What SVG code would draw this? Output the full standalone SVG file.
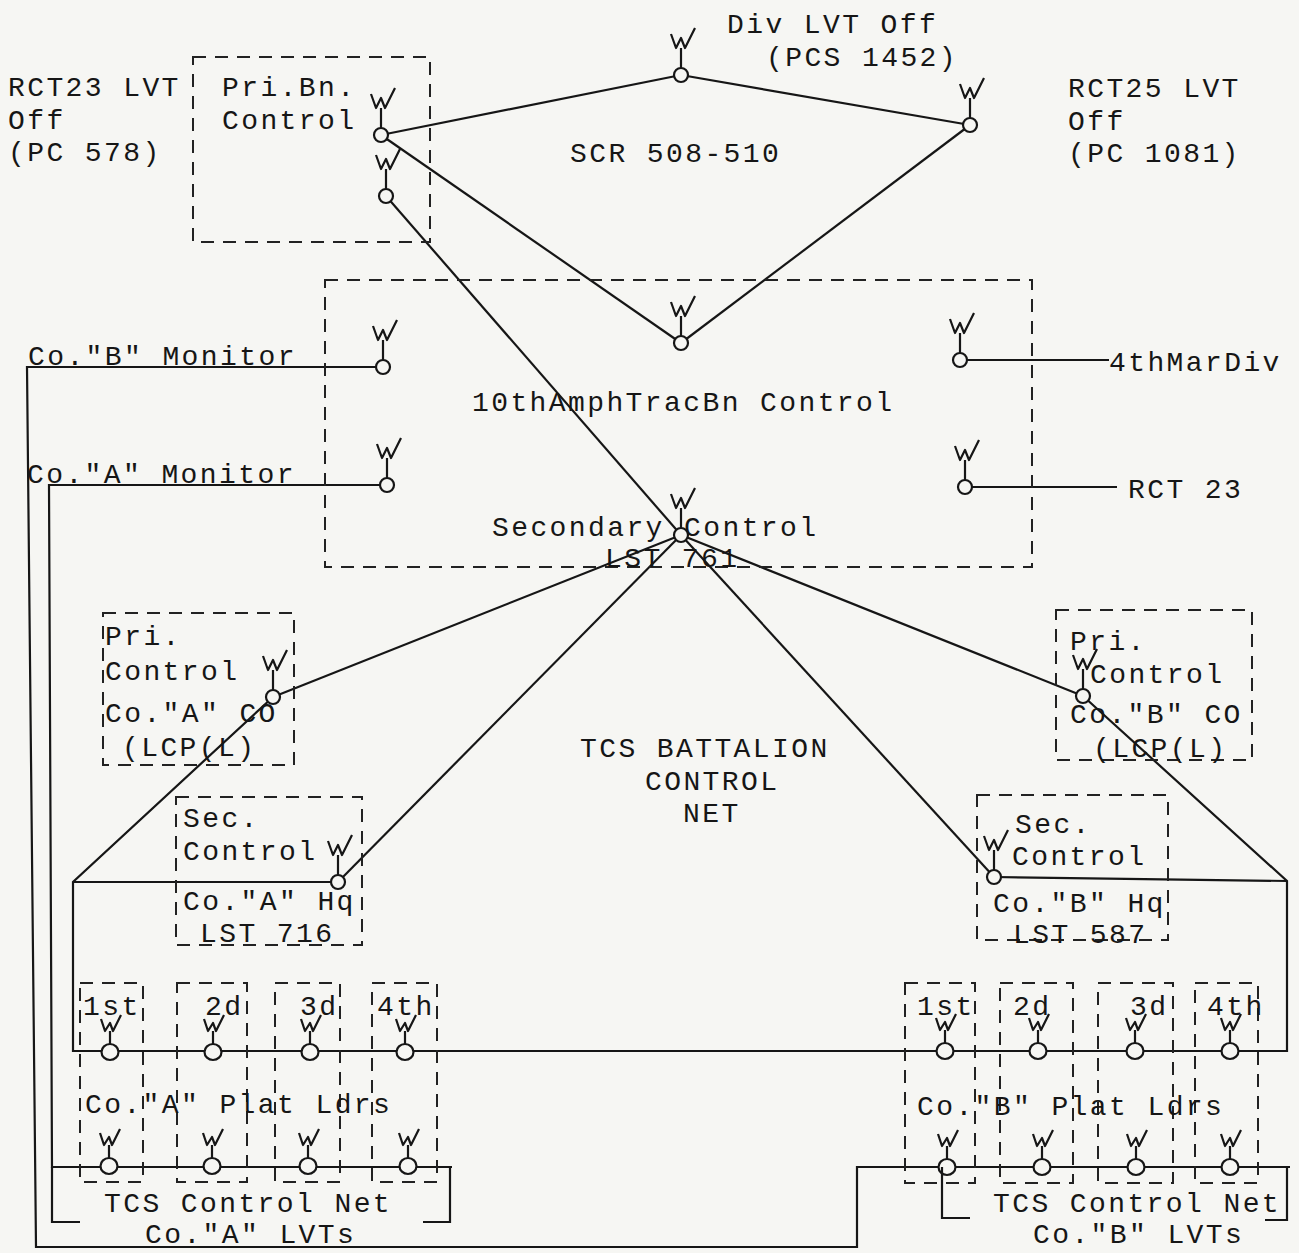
<svg xmlns="http://www.w3.org/2000/svg" xmlns:xlink="http://www.w3.org/1999/xlink" width="1299" height="1253" viewBox="0 0 1299 1253">
<style>
text{font-family:"Liberation Mono","DejaVu Sans Mono",monospace;font-size:28px;letter-spacing:2.4px;fill:#161616}
.ln{fill:none;stroke:#161616;stroke-width:2.2;stroke-linejoin:miter}
.box{fill:none;stroke:#222;stroke-width:2;stroke-dasharray:13 9}
.sol{fill:none;stroke:#161616;stroke-width:2.2}
.ant{fill:none;stroke:#161616;stroke-width:2.2;stroke-linejoin:round}
.nd{fill:#f6f6f3;stroke:#161616;stroke-width:2.2}
</style>
<defs>
<g id="ant">
<path class="ant" d="M0,-7 V-27 M-10,-41 L-5,-27 L0,-37 L4,-27 L14,-47"/>
<circle class="nd" r="7"/>
</g>
<g id="pant">
<path class="ant" d="M0,-8 V-21 M-9,-33 L-5,-21 L0,-29 L3,-21 L11,-37"/>
<ellipse class="nd" rx="8.5" ry="8"/>
</g>
</defs>
<rect width="1299" height="1253" fill="#f6f6f3"/>

<g id="connectors">
<line class="ln" x1="381" y1="135" x2="681" y2="75"/>
<line class="ln" x1="681" y1="75" x2="970" y2="125"/>
<line class="ln" x1="970" y1="125" x2="681" y2="343"/>
<line class="ln" x1="381" y1="135" x2="681" y2="343"/>
<line class="ln" x1="386" y1="196" x2="681" y2="535"/>
<polyline class="ln" points="383,367 27,367 36,1247 857,1247 857,1167 1290,1167"/>
<polyline class="ln" points="387,485 49,485 52,1167 452,1167"/>
<line class="ln" x1="960" y1="360" x2="1109" y2="360"/>
<line class="ln" x1="965" y1="487" x2="1117" y2="487"/>
<line class="ln" x1="681" y1="535" x2="273" y2="697"/>
<line class="ln" x1="681" y1="535" x2="338" y2="882"/>
<line class="ln" x1="681" y1="535" x2="1083" y2="696"/>
<line class="ln" x1="681" y1="535" x2="994" y2="877"/>
<polyline class="ln" points="273,697 73,882 73,1051 1287,1051 1287,881 1083,696"/>
<line class="ln" x1="73" y1="882" x2="338" y2="882"/>
<line class="ln" x1="994" y1="877" x2="1287" y2="881"/>
</g>

<g id="rct23-lvt">
<text x="8" y="96">RCT23 LVT</text>
<text x="8" y="129">Off</text>
<text x="8" y="161">(PC 578)</text>
</g>

<g id="pri-bn-control">
<rect class="box" x="193" y="57" width="237" height="185"/>
<text x="222" y="96">Pri.Bn.</text>
<text x="222" y="129">Control</text>
<use xlink:href="#ant" href="#ant" x="381" y="135"/>
<use xlink:href="#ant" href="#ant" x="386" y="196"/>
</g>

<g id="div-lvt">
<text x="727" y="33">Div LVT Off</text>
<text x="766" y="66">(PCS 1452)</text>
<use xlink:href="#ant" href="#ant" x="681" y="75"/>
</g>

<g id="rct25-lvt">
<text x="1068" y="97">RCT25 LVT</text>
<text x="1068" y="130">Off</text>
<text x="1068" y="162">(PC 1081)</text>
<use xlink:href="#ant" href="#ant" x="970" y="125"/>
</g>

<g id="scr-label">
<text x="570" y="162">SCR 508-510</text>
</g>

<g id="bn-control">
<rect class="box" x="325" y="280" width="707" height="287"/>
<text x="472" y="411">10thAmphTracBn Control</text>
<use xlink:href="#ant" href="#ant" x="681" y="343"/>
<use xlink:href="#ant" href="#ant" x="383" y="367"/>
<use xlink:href="#ant" href="#ant" x="387" y="485"/>
<use xlink:href="#ant" href="#ant" x="960" y="360"/>
<use xlink:href="#ant" href="#ant" x="965" y="487"/>
</g>

<g id="co-b-monitor"><text x="28" y="365">Co."B" Monitor</text></g>
<g id="co-a-monitor"><text x="27" y="483">Co."A" Monitor</text></g>
<g id="fourth-mar-div"><text x="1109" y="371">4thMarDiv</text></g>
<g id="rct-23"><text x="1128" y="498">RCT 23</text></g>

<g id="secondary-control">
<text x="492" y="536">Secondary Control</text>
<text x="605" y="567">LST 761</text>
<use xlink:href="#ant" href="#ant" x="681" y="535"/>
</g>

<g id="pri-control-a">
<rect class="box" x="103" y="613" width="191" height="152"/>
<text x="105" y="645">Pri.</text>
<text x="105" y="680">Control</text>
<text x="105" y="722">Co."A" CO</text>
<text x="122" y="756">(LCP(L)</text>
<use xlink:href="#ant" href="#ant" x="273" y="697"/>
</g>

<g id="sec-control-a">
<rect class="box" x="176" y="797" width="186" height="148"/>
<text x="183" y="827">Sec.</text>
<text x="183" y="860">Control</text>
<text x="183" y="910">Co."A" Hq</text>
<text x="200" y="942">LST 716</text>
<use xlink:href="#ant" href="#ant" x="338" y="882"/>
</g>

<g id="pri-control-b">
<rect class="box" x="1056" y="610" width="196" height="150"/>
<text x="1070" y="650">Pri.</text>
<text x="1090" y="683">Control</text>
<text x="1070" y="723">Co."B" CO</text>
<text x="1093" y="757">(LCP(L)</text>
<use xlink:href="#ant" href="#ant" x="1083" y="696"/>
</g>

<g id="sec-control-b">
<rect class="box" x="977" y="795" width="191" height="145"/>
<text x="1015" y="833">Sec.</text>
<text x="1012" y="865">Control</text>
<text x="993" y="912">Co."B" Hq</text>
<text x="1013" y="943">LST 587</text>
<use xlink:href="#ant" href="#ant" x="994" y="877"/>
</g>

<g id="tcs-battalion-net">
<text x="580" y="757">TCS BATTALION</text>
<text x="645" y="790">CONTROL</text>
<text x="683" y="822">NET</text>
</g>

<g id="co-a-platoons">
<rect class="box" x="80" y="983" width="63" height="199"/>
<rect class="box" x="177" y="983" width="70" height="199"/>
<rect class="box" x="275" y="983" width="65" height="199"/>
<rect class="box" x="372" y="983" width="65" height="199"/>
<text x="83" y="1015">1st</text>
<text x="205" y="1015">2d</text>
<text x="300" y="1015">3d</text>
<text x="377" y="1015">4th</text>
<text x="85" y="1113">Co."A" Plat Ldrs</text>
<use xlink:href="#pant" href="#pant" x="110" y="1052"/>
<use xlink:href="#pant" href="#pant" x="213" y="1052"/>
<use xlink:href="#pant" href="#pant" x="310" y="1052"/>
<use xlink:href="#pant" href="#pant" x="405" y="1052"/>
<use xlink:href="#pant" href="#pant" x="109" y="1166"/>
<use xlink:href="#pant" href="#pant" x="212" y="1166"/>
<use xlink:href="#pant" href="#pant" x="308" y="1166"/>
<use xlink:href="#pant" href="#pant" x="408" y="1166"/>
</g>

<g id="co-a-lvt-net">
<path class="sol" d="M52,1167 V1222 H80 M423,1222 H450 V1167"/>
<text x="104" y="1212">TCS Control Net</text>
<text x="145" y="1243">Co."A" LVTs</text>
</g>

<g id="co-b-platoons">
<rect class="box" x="905" y="983" width="70" height="200"/>
<rect class="box" x="1000" y="983" width="73" height="200"/>
<rect class="box" x="1098" y="983" width="75" height="200"/>
<rect class="box" x="1195" y="983" width="63" height="200"/>
<text x="917" y="1015">1st</text>
<text x="1013" y="1015">2d</text>
<text x="1130" y="1015">3d</text>
<text x="1207" y="1015">4th</text>
<text x="917" y="1115">Co."B" Plat Ldrs</text>
<use xlink:href="#pant" href="#pant" x="945" y="1051"/>
<use xlink:href="#pant" href="#pant" x="1038" y="1051"/>
<use xlink:href="#pant" href="#pant" x="1135" y="1051"/>
<use xlink:href="#pant" href="#pant" x="1230" y="1051"/>
<use xlink:href="#pant" href="#pant" x="947" y="1167"/>
<use xlink:href="#pant" href="#pant" x="1042" y="1167"/>
<use xlink:href="#pant" href="#pant" x="1136" y="1167"/>
<use xlink:href="#pant" href="#pant" x="1230" y="1167"/>
</g>

<g id="co-b-lvt-net">
<path class="sol" d="M942,1167 V1218 H970 M1265,1220 H1287 V1167"/>
<text x="993" y="1212">TCS Control Net</text>
<text x="1033" y="1243">Co."B" LVTs</text>
</g>
</svg>
